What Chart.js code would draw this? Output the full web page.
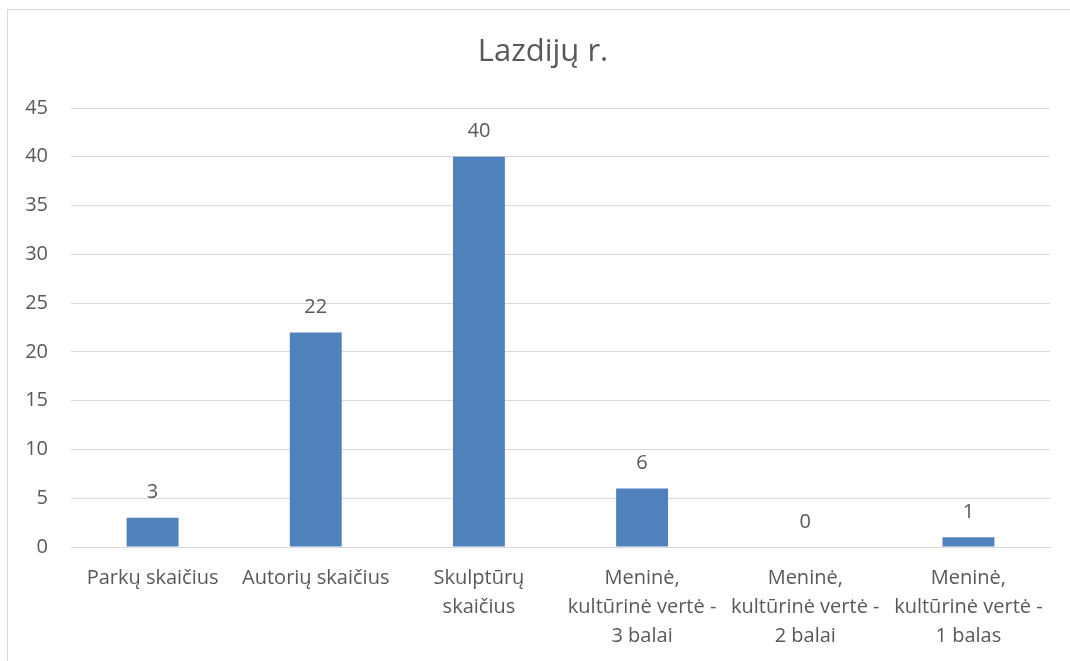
<!DOCTYPE html>
<html>
<head>
<meta charset="utf-8">
<script src="https://cdn.jsdelivr.net/npm/chart.js@4.4.0/dist/chart.umd.min.js"></script>
<style>
  html, body { margin: 0; padding: 0; background: #ffffff; overflow: hidden; }
  #frame { position: absolute; left: 7px; top: 9px; width: 1080px; height: 680px; border: 1px solid #d9d9d9; box-sizing: border-box; }
  #c { position: absolute; left: 0; top: 0; }
</style>
</head>
<body>
<div id="frame"></div>
<canvas id="c" width="1070" height="661"></canvas>
<script>
const chartTitle = 'Lazdijų r.';
const categories = [
  ['Parkų skaičius'],
  ['Autorių skaičius'],
  ['Skulptūrų', 'skaičius'],
  ['Meninė,', 'kultūrinė vertė -', '3 balai'],
  ['Meninė,', 'kultūrinė vertė -', '2 balai'],
  ['Meninė,', 'kultūrinė vertė -', '1 balas']
];
const values = [3, 22, 40, 6, 0, 1];
const yMin = 0, yMax = 45, yStep = 5;

const textColor = '#595959';
const fontFamily = "'Open Sans', 'Liberation Sans', sans-serif";

const dataLabels = {
  id: 'dataLabels',
  afterDatasetsDraw(chart) {
    const ctx = chart.ctx;
    const meta = chart.getDatasetMeta(0);
    ctx.save();
    ctx.fillStyle = textColor;
    ctx.font = "20px " + fontFamily;
    ctx.textAlign = 'center';
    ctx.textBaseline = 'middle';
    meta.data.forEach((el, i) => {
      ctx.fillText(String(values[i]), el.x, el.y - 25);
    });
    ctx.restore();
  }
};

// centre the title on the chart frame rather than on the canvas minus padding
const titleShift = {
  id: 'titleShift',
  afterLayout(chart) {
    const tb = chart.titleBlock;
    if (tb) { tb.left += 36; tb.right += 0; }
  }
};

new Chart(document.getElementById('c'), {
  type: 'bar',
  data: {
    labels: categories,
    datasets: [{
      data: values,
      backgroundColor: '#4f81bd',
      borderWidth: 0,
      categoryPercentage: 1.0,
      barPercentage: 0.318
    }]
  },
  options: {
    responsive: false,
    animation: false,
    devicePixelRatio: 1,
    layout: { padding: { left: 0, right: 20, top: 0, bottom: 0 } },
    plugins: {
      legend: { display: false },
      tooltip: { enabled: false },
      title: {
        display: true,
        text: chartTitle,
        color: textColor,
        font: { family: fontFamily, size: 31, weight: 'normal', lineHeight: 1.2 },
        padding: { top: 34, bottom: 36.8 }
      }
    },
    scales: {
      x: {
        grid: { display: false, drawTicks: false },
        border: { display: true, color: '#d9d9d9', width: 1 },
        ticks: {
          color: textColor,
          font: { family: fontFamily, size: 20, lineHeight: 1.45 },
          padding: 17,
          maxRotation: 0,
          autoSkip: false
        },
        afterFit(scale) { scale.height = 114; }
      },
      y: {
        min: yMin,
        max: yMax,
        grid: { color: '#d9d9d9', lineWidth: 1, drawTicks: false },
        border: { display: false },
        ticks: {
          stepSize: yStep,
          color: textColor,
          font: { family: fontFamily, size: 20 },
          padding: 23
        },
        afterFit(scale) { scale.width = 71; }
      }
    }
  },
  plugins: [dataLabels, titleShift]
});
</script>
</body>
</html>
